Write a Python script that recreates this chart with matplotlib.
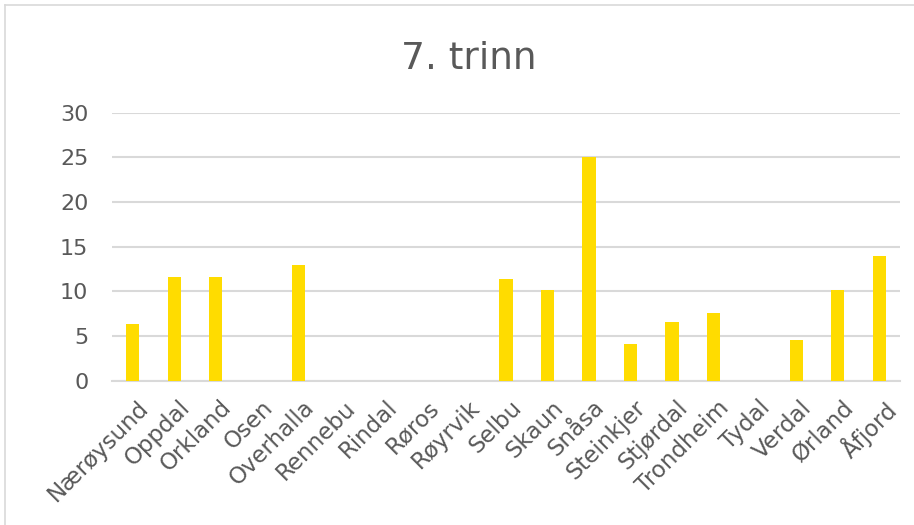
import matplotlib.pyplot as plt
import matplotlib.transforms as mtransforms
from matplotlib.lines import Line2D

kommuner = ["Nærøysund", "Oppdal", "Orkland", "Osen", "Overhalla", "Rennebu",
            "Rindal", "Røros", "Røyrvik", "Selbu", "Skaun", "Snåsa", "Steinkjer",
            "Stjørdal", "Trondheim", "Tydal", "Verdal", "Ørland", "Åfjord"]
verdier = [6.3, 11.6, 11.6, 0, 13.0, 0, 0, 0, 0, 11.4, 10.2, 25.0, 4.1,
           6.6, 7.6, 0, 4.6, 10.2, 14.0]
y_ticks = [0, 5, 10, 15, 20, 25, 30]

W, H = 914, 525
tekst = "#595959"

fig = plt.figure(figsize=(W / 100, H / 100), dpi=100)
plt.rcParams['font.family'] = ['DejaVu Sans']

ax = fig.add_axes([112 / W, 1 - 380.7 / H, (900 - 112) / W, (380.7 - 112.7) / H])
x = range(len(kommuner))
ax.bar(x, verdier, width=0.32, color="#FFDC00", zorder=3)

ax.set_ylim(0, 30)
ax.set_xlim(-0.5, len(kommuner) - 0.5)
ax.set_yticks(y_ticks)
ax.set_yticklabels([str(t) for t in y_ticks])
ax.yaxis.grid(True, color="#d9d9d9", linewidth=1.5, zorder=0)
ax.tick_params(axis="y", length=0, pad=17, labelsize=16, labelcolor=tekst)
ax.tick_params(axis="x", length=0, pad=11, labelsize=16.5, labelcolor=tekst)
for s in ["top", "right", "left"]:
    ax.spines[s].set_visible(False)
ax.spines["bottom"].set_color("#d9d9d9")
ax.spines["bottom"].set_linewidth(1.5)

ax.set_xticks(list(x))
ax.set_xticklabels(kommuner, rotation=45, ha="right", va="top", rotation_mode="anchor")
shift = mtransforms.ScaledTranslation(4 / 100, 0, fig.dpi_scale_trans)
for lbl in ax.get_xticklabels():
    lbl.set_transform(lbl.get_transform() + shift)

fig.text(469 / W, 1 - 59 / H, "7. trinn", ha="center", va="center",
         fontsize=27, color=tekst)

# ytre ramme
fig.add_artist(Line2D([5 / W, 5 / W], [0, 1 - 5 / H], color="#d9d9d9", linewidth=1.2))
fig.add_artist(Line2D([5 / W, 1], [1 - 5 / H, 1 - 5 / H], color="#d9d9d9", linewidth=1.2))

fig.savefig("out.png", dpi=100)
